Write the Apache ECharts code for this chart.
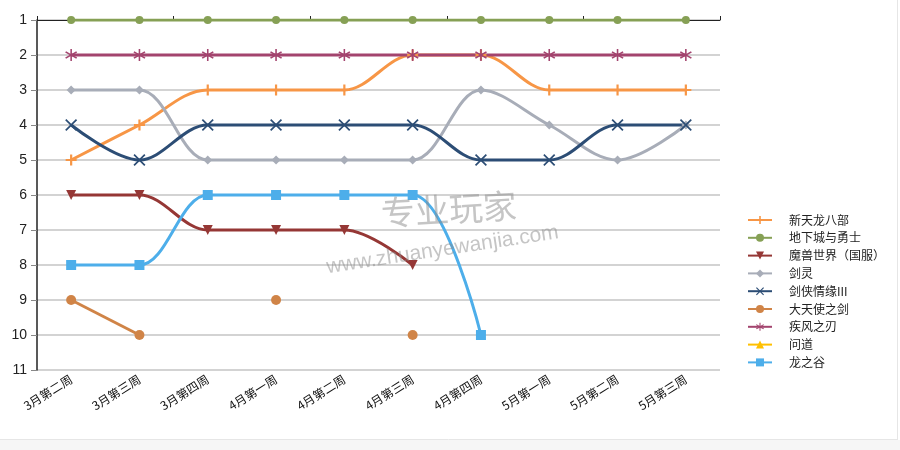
<!DOCTYPE html>
<html>
<head>
<meta charset="utf-8">
<script src="https://cdn.jsdelivr.net/npm/echarts@6/dist/echarts.min.js"></script>
<style>html,body{margin:0;padding:0;background:#fff}#c{width:900px;height:450px}</style>
</head>
<body>
<div id="c"></div>
<script>
const categories = ['3月第二周','3月第三周','3月第四周','4月第一周','4月第二周','4月第三周','4月第四周','5月第一周','5月第二周','5月第三周'];
const yTicks = [1,2,3,4,5,6,7,8,9,10,11];
const xintiandl = [5,4,3,3,3,2,2,3,3,3];
const dixiacheng = [1,1,1,1,1,1,1,1,1,1];
const moshou = [6,6,7,7,7,8,null,null,null,null];
const jianling = [3,3,5,5,5,5,3,4,5,4];
const jianxia = [4,5,4,4,4,4,5,5,4,4];
const datianshi = [9,10,null,9,null,10,null,null,null,null];
const jifeng = [2,2,2,2,2,2,2,2,2,2];
const wendao = [null,null,null,null,null,null,null,null,null,null];
const longzhigu = [8,8,6,6,6,6,10,null,null,null];

const plusPath = 'path://M4,0L6,0L6,4L10,4L10,6L6,6L6,10L4,10L4,6L0,6L0,4L4,4Z';
const xPath = 'path://M1,0L5,4L9,0L10,1L6,5L10,9L9,10L5,6L1,10L0,9L4,5L0,1Z';
const starPath = 'path://M4.4,0L5.6,0L5.6,3.9L8.9,1.8L9.6,2.9L6.2,5L9.6,7.1L8.9,8.2L5.6,6.1L5.6,10L4.4,10L4.4,6.1L1.1,8.2L0.4,7.1L3.8,5L0.4,2.9L1.1,1.8L4.4,3.9Z';

function s(name, data, color, symbol, size, extra) {
  return Object.assign({
    name: name, type: 'line', data: data, smooth: 0.35,
    connectNulls: false, symbol: symbol, symbolSize: size,
    lineStyle: {color: color, width: 3},
    itemStyle: {color: color},
    xAxisIndex: 0, yAxisIndex: 0
  }, extra || {});
}

const chart = echarts.init(document.getElementById('c'), null, {renderer: 'canvas'});
chart.setOption({
  animation: false,
  backgroundColor: '#ffffff',
  grid: {left: 37, right: 180, top: 20, bottom: 80, containLabel: false},
  legend: {
    orient: 'vertical', left: 742, top: 209,
    itemWidth: 24, itemHeight: 10, itemGap: 5.8,
    textStyle: {fontSize: 12, color: '#222', fontFamily: 'Noto Sans CJK SC', padding: [0,0,0,12]},
    data: ['新天龙八部','地下城与勇士','魔兽世界（国服）','剑灵','剑侠情缘III','大天使之剑','疾风之刃','问道','龙之谷']
  },
  xAxis: [
    {type: 'category', data: categories, position: 'top', boundaryGap: true,
     axisLine: {show: true, lineStyle: {color: '#222', width: 1}},
     axisTick: {show: true, length: 4, lineStyle: {color: '#222'}},
     axisLabel: {show: false}, splitLine: {show: false}},
    {type: 'category', data: categories, position: 'bottom', boundaryGap: true,
     axisLine: {show: false}, axisTick: {show: false},
     axisLabel: {show: true, rotate: 32, margin: 8, fontSize: 12, color: '#111', fontFamily: 'Noto Sans CJK SC', interval: 0}}
  ],
  yAxis: [{
    type: 'value', inverse: true, min: yTicks[0], max: yTicks[yTicks.length-1], interval: 1,
    axisLine: {show: true, lineStyle: {color: '#222', width: 1.5}},
    axisTick: {show: true, length: 6, lineStyle: {color: '#888'}},
    axisLabel: {fontSize: 14, color: '#222', margin: 10, fontFamily: 'Liberation Sans'},
    splitLine: {show: true, lineStyle: {color: '#c4c4c4', width: 1.5}}
  }],
  graphic: [
    {type: 'text', left: 380, top: 188, rotation: 0.06, z: 100,
     style: {text: '专业玩家', fontSize: 34, fill: 'rgba(140,140,140,0.5)', fontFamily: 'Noto Sans CJK SC'}},
    {type: 'text', left: 325, top: 222, rotation: 0.15, z: 100,
     style: {text: 'www.zhuanyewanjia.com', fontSize: 21, fill: 'rgba(140,140,140,0.5)', fontFamily: 'Liberation Sans'}},
    {type: 'rect', shape: {x: 0, y: 440, width: 900, height: 10}, style: {fill: '#f6f6f6'}, z: -1},
    {type: 'line', shape: {x1: 0, y1: 439.5, x2: 897, y2: 439.5}, style: {stroke: '#e6e6e6', lineWidth: 1}},
    {type: 'line', shape: {x1: 897.5, y1: 0, x2: 897.5, y2: 440}, style: {stroke: '#e6e6e6', lineWidth: 1}}
  ],
  series: [
    s('新天龙八部', xintiandl, '#F79646', plusPath, 11),
    s('地下城与勇士', dixiacheng, '#86A055', 'circle', 8),
    s('魔兽世界（国服）', moshou, '#953735', 'triangle', 10, {symbolRotate: 180}),
    s('剑灵', jianling, '#A8ADB8', 'diamond', 9),
    s('剑侠情缘III', jianxia, '#2C4D75', xPath, 12),
    s('大天使之剑', datianshi, '#D08447', 'circle', 10),
    s('疾风之刃', jifeng, '#A3446E', starPath, 12),
    s('问道', wendao, '#FFC000', 'triangle', 10),
    s('龙之谷', longzhigu, '#4DAEEA', 'rect', 10)
  ]
});
</script>
</body>
</html>
